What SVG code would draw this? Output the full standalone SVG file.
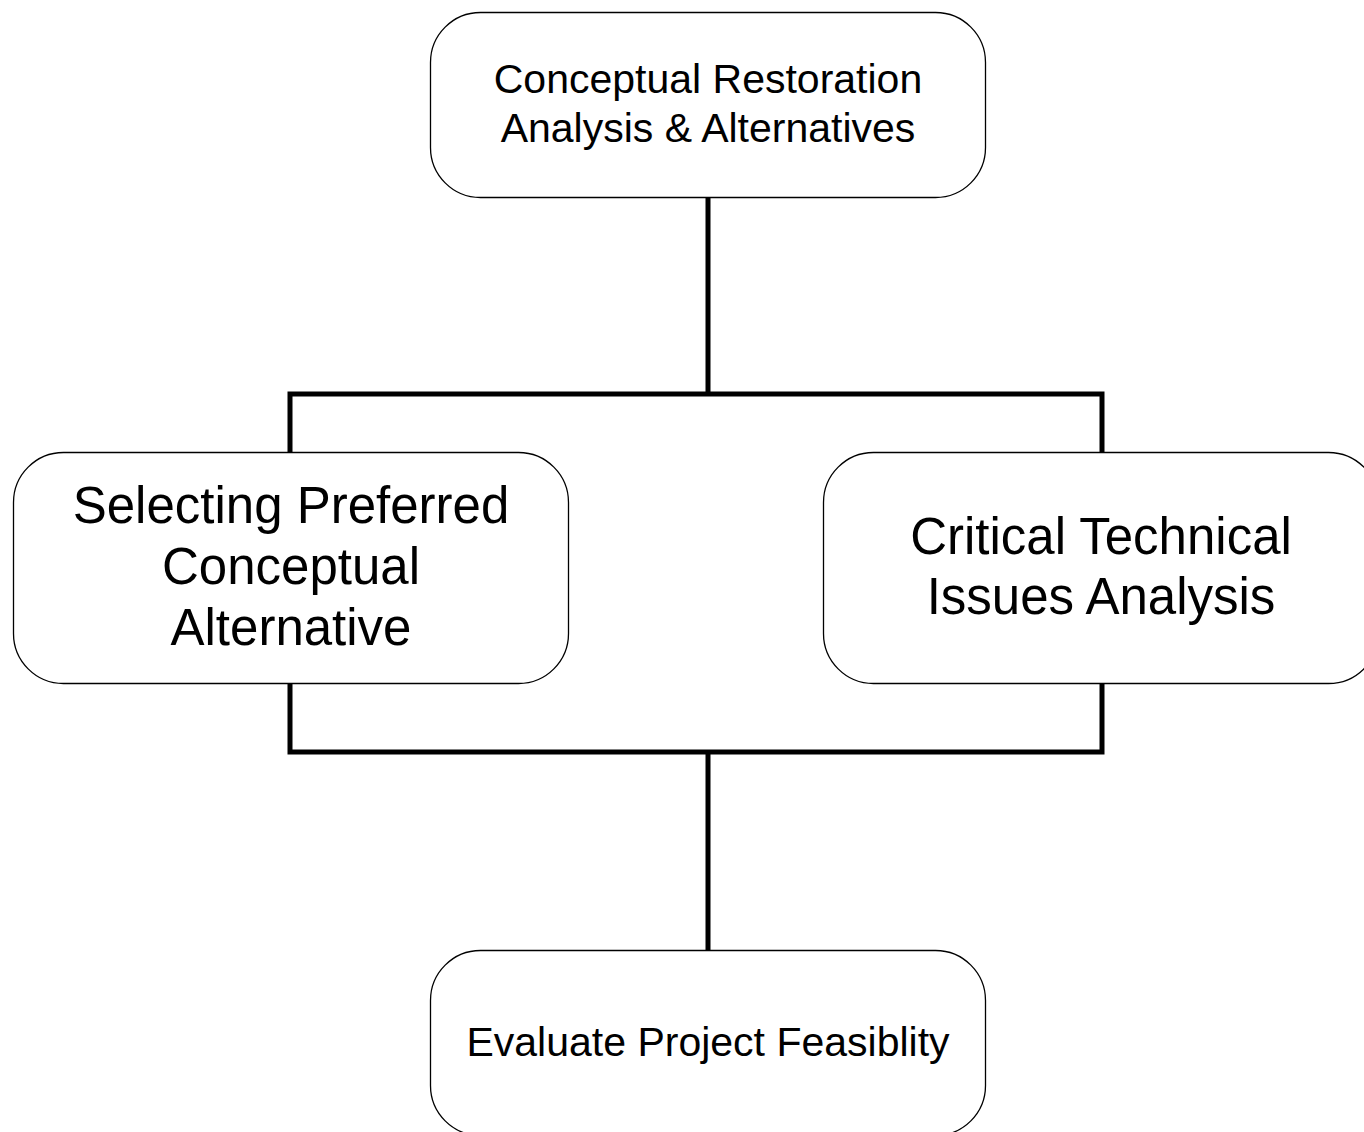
<svg xmlns="http://www.w3.org/2000/svg" width="1364" height="1132" viewBox="0 0 1364 1132">
<style>
.box{fill:#fff;stroke:#000;stroke-width:1.3}
.t{font-family:"Liberation Sans",Arial,sans-serif;fill:#000;text-anchor:middle}
.s{font-size:41px}
.l{font-size:51px}
.c{fill:none;stroke:#000;stroke-width:5;stroke-linecap:butt;stroke-linejoin:miter}
</style>
<rect width="1364" height="1132" fill="#fff"/>
<g id="connectors">
<path class="c" d="M708,197 V394 M290,452 V394 H1102 V452"/>
<path class="c" d="M290,684 V752 H1102 V684 M708,752 V950"/>
</g>
<g id="n1">
<rect class="box" x="430.5" y="12.5" width="555" height="185" rx="50" ry="50"/>
<text class="t s" x="708" y="93">Conceptual Restoration</text>
<text class="t s" x="708" y="142">Analysis &amp; Alternatives</text>
</g>
<g id="n2">
<rect class="box" x="13.5" y="452.5" width="555" height="231" rx="50" ry="50"/>
<text class="t l" x="291" y="523">Selecting Preferred</text>
<text class="t l" x="291" y="584">Conceptual</text>
<text class="t l" x="291" y="645">Alternative</text>
</g>
<g id="n3">
<rect class="box" x="823.5" y="452.5" width="555" height="231" rx="50" ry="50"/>
<text class="t l" x="1101" y="554">Critical Technical</text>
<text class="t l" x="1101" y="614">Issues Analysis</text>
</g>
<g id="n4">
<rect class="box" x="430.5" y="950.5" width="555" height="185" rx="50" ry="50"/>
<text class="t s" x="708" y="1056">Evaluate Project Feasiblity</text>
</g>
</svg>
